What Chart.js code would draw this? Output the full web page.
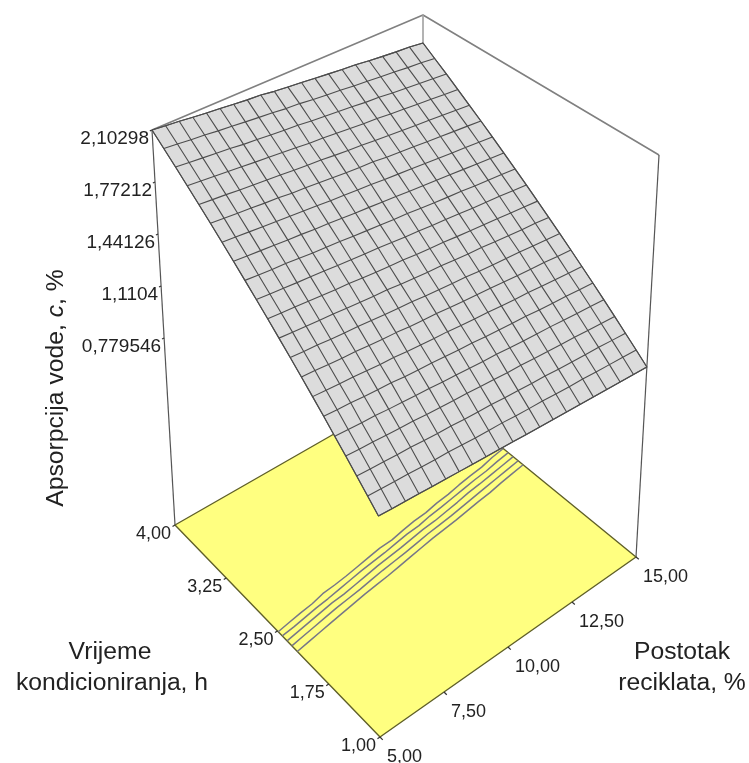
<!DOCTYPE html>
<html>
<head>
<meta charset="utf-8">
<style>
html, body { margin: 0; padding: 0; background: #fff; }
canvas { display: block; }
</style>
<script src="https://cdn.jsdelivr.net/npm/chart.js@4"></script>
</head>
<body>
<canvas id="chart" width="749" height="763"></canvas>
<script>
// surface grid, one row per time value (4,00 down to 1,00), one column per recycle value
var timeGrid = [4.00, 3.85, 3.70, 3.55, 3.40, 3.25, 3.10, 2.95, 2.80, 2.65, 2.50, 2.35, 2.20, 2.05, 1.90, 1.75, 1.60, 1.45, 1.30, 1.15, 1.00];
var recGrid = [5.0, 5.5, 6.0, 6.5, 7.0, 7.5, 8.0, 8.5, 9.0, 9.5, 10.0, 10.5, 11.0, 11.5, 12.0, 12.5, 13.0, 13.5, 14.0, 14.5, 15.0];
var absorption = [
	[2.103,2.093,2.085,2.074,2.064,2.056,2.046,2.037,2.031,2.017,2.007,1.999,1.988,1.979,1.969,1.962,1.950,1.940,1.931,1.924,1.912],
	[2.042,2.033,2.023,2.015,2.004,1.996,1.986,1.977,1.969,1.957,1.951,1.939,1.930,1.922,1.911,1.902,1.893,1.884,1.874,1.866,1.855],
	[1.981,1.972,1.963,1.954,1.946,1.934,1.926,1.917,1.909,1.902,1.890,1.881,1.873,1.864,1.853,1.846,1.835,1.826,1.817,1.808,1.799],
	[1.920,1.911,1.902,1.894,1.884,1.875,1.867,1.858,1.849,1.838,1.832,1.822,1.813,1.804,1.797,1.787,1.778,1.769,1.760,1.751,1.742],
	[1.859,1.850,1.842,1.832,1.824,1.815,1.807,1.798,1.789,1.783,1.772,1.763,1.756,1.746,1.737,1.729,1.720,1.712,1.703,1.694,1.685],
	[1.798,1.790,1.781,1.773,1.764,1.757,1.746,1.739,1.730,1.722,1.713,1.705,1.700,1.688,1.680,1.672,1.663,1.655,1.646,1.638,1.629],
	[1.736,1.728,1.720,1.711,1.704,1.695,1.687,1.679,1.670,1.663,1.654,1.648,1.637,1.630,1.622,1.613,1.605,1.597,1.589,1.580,1.572],
	[1.675,1.667,1.659,1.651,1.643,1.636,1.627,1.620,1.611,1.603,1.596,1.587,1.580,1.571,1.563,1.556,1.547,1.539,1.531,1.523,1.515],
	[1.614,1.606,1.598,1.593,1.583,1.574,1.567,1.561,1.552,1.544,1.536,1.528,1.523,1.513,1.505,1.497,1.491,1.481,1.474,1.466,1.458],
	[1.553,1.545,1.538,1.530,1.523,1.517,1.508,1.500,1.493,1.487,1.478,1.470,1.463,1.455,1.449,1.440,1.432,1.425,1.419,1.410,1.402],
	[1.492,1.485,1.479,1.470,1.463,1.455,1.450,1.441,1.433,1.426,1.421,1.411,1.404,1.399,1.390,1.382,1.375,1.369,1.360,1.353,1.345],
	[1.431,1.424,1.417,1.409,1.404,1.395,1.388,1.381,1.376,1.367,1.359,1.352,1.347,1.338,1.331,1.326,1.317,1.309,1.302,1.297,1.288],
	[1.370,1.363,1.358,1.349,1.342,1.337,1.329,1.322,1.315,1.310,1.301,1.294,1.287,1.282,1.273,1.266,1.260,1.255,1.246,1.239,1.232],
	[1.309,1.304,1.296,1.289,1.284,1.276,1.269,1.264,1.255,1.249,1.244,1.235,1.229,1.222,1.217,1.209,1.202,1.195,1.191,1.182,1.175],
	[1.248,1.241,1.235,1.230,1.222,1.215,1.211,1.202,1.196,1.189,1.185,1.176,1.170,1.165,1.157,1.150,1.146,1.137,1.131,1.124,1.118],
	[1.187,1.181,1.176,1.168,1.162,1.158,1.149,1.143,1.139,1.131,1.124,1.120,1.112,1.106,1.099,1.095,1.087,1.081,1.076,1.068,1.062],
	[1.125,1.119,1.113,1.109,1.101,1.095,1.089,1.085,1.077,1.071,1.065,1.059,1.055,1.047,1.041,1.035,1.031,1.023,1.017,1.011,1.005],
	[1.064,1.058,1.054,1.047,1.041,1.037,1.029,1.023,1.018,1.014,1.006,1.000,0.994,0.991,0.983,0.977,0.971,0.967,0.960,0.954,0.948],
	[1.003,0.997,0.992,0.986,0.983,0.975,0.969,0.966,0.958,0.953,0.949,0.941,0.936,0.930,0.927,0.919,0.913,0.908,0.904,0.897,0.891],
	[0.942,0.937,0.931,0.928,0.921,0.915,0.912,0.905,0.899,0.894,0.891,0.883,0.878,0.875,0.867,0.862,0.859,0.851,0.846,0.841,0.835],
	[0.881,0.876,0.871,0.866,0.860,0.855,0.850,0.845,0.840,0.835,0.830,0.824,0.819,0.814,0.809,0.804,0.799,0.793,0.788,0.783,0.778]
];

// contour lines on the floor: time value at each recycle value
var contourRec = recGrid;
var contour1 = [2.49,2.51,2.53,2.545,2.575,2.585,2.60,2.62,2.64,2.66,2.665,2.69,2.71,2.72,2.745,2.76,2.785,2.805,2.82,2.85,2.87];
var contour2 = [2.43,2.445,2.465,2.485,2.50,2.52,2.54,2.56,2.575,2.59,2.61,2.63,2.64,2.665,2.68,2.70,2.72,2.74,2.755,2.78,2.80];
var contour3 = [2.36,2.38,2.40,2.42,2.44,2.45,2.47,2.49,2.51,2.525,2.54,2.56,2.58,2.59,2.61,2.63,2.655,2.67,2.69,2.71,2.73];
var contour4 = [2.29,2.31,2.33,2.35,2.37,2.385,2.40,2.42,2.44,2.455,2.47,2.49,2.51,2.525,2.54,2.56,2.58,2.60,2.62,2.64,2.66];
var contour5 = [2.21,2.23,2.25,2.27,2.29,2.31,2.33,2.345,2.36,2.38,2.40,2.42,2.44,2.455,2.47,2.49,2.51,2.525,2.55,2.57,2.59];

// tick values and labels
var recTicks = [5, 7.5, 10, 12.5, 15];
var recLabels = ["5,00", "7,50", "10,00", "12,50", "15,00"];
var timeTicks = [4, 3.25, 2.5, 1.75, 1];
var timeLabels = ["4,00", "3,25", "2,50", "1,75", "1,00"];
var zTicks = [2.10298, 1.77212, 1.44126, 1.1104, 0.779546];
var zLabels = ["2,10298", "1,77212", "1,44126", "1,1104", "0,779546"];

var recMin = 5, recMax = 15, timeMin = 1, timeMax = 4, zMin = -0.41, zMax = 2.10298;

// where the corners of the 3D box land on the page (the view of the plot)
var view = {
	floor: { left: [175, 525], back: [423, 383], right: [636, 557], front: [380, 737] },
	top: { left: [152, 130], back: [423, 15], right: [659, 155], front: [377, 307] }
};

function bilinear(c, u, v, k) {
	// u goes along recycle, v goes along time (0 at time 4)
	return (1 - u) * (1 - v) * c.left[k] + u * (1 - v) * c.back[k] + (1 - u) * v * c.front[k] + u * v * c.right[k];
}

function project(rec, time, z) {
	var u = (rec - recMin) / (recMax - recMin);
	var v = (timeMax - time) / (timeMax - timeMin);
	var w = (z - zMin) / (zMax - zMin);
	return {
		x: bilinear(view.floor, u, v, 0) * (1 - w) + bilinear(view.top, u, v, 0) * w,
		y: bilinear(view.floor, u, v, 1) * (1 - w) + bilinear(view.top, u, v, 1) * w
	};
}

var datasets = [];
function addLine(points, color, width, fillColor) {
	datasets.push({
		data: points,
		showLine: true,
		pointRadius: 0,
		tension: 0,
		borderColor: color,
		borderWidth: width,
		borderJoinStyle: "round",
		backgroundColor: fillColor || "transparent",
		fill: fillColor ? "shape" : false,
		clip: false
	});
}

var boxColor = "#808080";

// back edges of the box
addLine([project(recMin, timeMax, zMax), project(recMax, timeMax, zMax), project(recMax, timeMin, zMax)], boxColor, 1.6);
addLine([project(recMax, timeMax, zMin), project(recMax, timeMax, zMax)], "#a0a0a0", 1.6);
addLine([project(recMin, timeMax, zMin), project(recMin, timeMax, zMax)], "#555555", 1.2);
addLine([project(recMax, timeMin, zMin), project(recMax, timeMin, zMax)], "#555555", 1.2);

// floor
addLine([
	project(recMin, timeMax, zMin), project(recMax, timeMax, zMin),
	project(recMax, timeMin, zMin), project(recMin, timeMin, zMin),
	project(recMin, timeMax, zMin)
], "#5f5f28", 1.4, "#ffff80");

// contours
var contours = [contour1, contour2, contour3, contour4, contour5];
for (var c = 0; c < contours.length; c++) {
	var line = [];
	for (var i = 0; i < contourRec.length; i++) {
		line.push(project(contourRec[i], contours[c][i], zMin));
	}
	addLine(line, "#777788", 1.5);
}

// axis ticks
for (var i = 0; i < recTicks.length; i++) {
	addLine([project(recTicks[i], timeMin, zMin), project(recTicks[i], timeMin - 0.04, zMin)], "#333333", 1.2);
}
for (var i = 0; i < timeTicks.length; i++) {
	addLine([project(recMin, timeTicks[i], zMin), project(recMin - 0.1, timeTicks[i], zMin)], "#333333", 1.2);
}
for (var i = 0; i < zTicks.length; i++) {
	addLine([project(recMin, timeMax, zTicks[i]), project(recMin - 0.08, timeMax, zTicks[i])], "#333333", 1.2);
}

// surface outline with the fill, then the mesh on top
var last = timeGrid.length - 1;
var lastCol = recGrid.length - 1;
var outline = [];
for (var j = 0; j <= lastCol; j++) outline.push(project(recGrid[j], timeGrid[0], absorption[0][j]));
for (var i = 1; i <= last; i++) outline.push(project(recGrid[lastCol], timeGrid[i], absorption[i][lastCol]));
for (var j = lastCol - 1; j >= 0; j--) outline.push(project(recGrid[j], timeGrid[last], absorption[last][j]));
for (var i = last - 1; i >= 0; i--) outline.push(project(recGrid[0], timeGrid[i], absorption[i][0]));
addLine(outline, "#505050", 1.1, "#dcdcdc");

var meshColor = "#4d4d4d";
for (var i = 0; i <= last; i++) {
	var row = [];
	for (var j = 0; j <= lastCol; j++) row.push(project(recGrid[j], timeGrid[i], absorption[i][j]));
	addLine(row, meshColor, 1.1);
}
for (var j = 0; j <= lastCol; j++) {
	var col = [];
	for (var i = 0; i <= last; i++) col.push(project(recGrid[j], timeGrid[i], absorption[i][j]));
	addLine(col, meshColor, 1.1);
}

// painter's order: later in the list means drawn later
for (var d = 0; d < datasets.length; d++) datasets[d].order = datasets.length - d;

var textColor = "#222222";
var tickFont = "18px 'Liberation Sans', Arial, sans-serif";
var zTickFont = "19px 'Liberation Sans', Arial, sans-serif";
var titleFont = "24.7px 'Liberation Sans', Arial, sans-serif";

var labelsPlugin = {
	id: "labels3d",
	afterDraw: function(chart) {
		var ctx = chart.ctx;
		var sx = chart.scales.x, sy = chart.scales.y;
		function text(s, x, y, align, font) {
			ctx.font = font;
			ctx.textAlign = align;
			ctx.textBaseline = "middle";
			ctx.fillText(s, x, y);
		}
		function at(p) {
			return { x: sx.getPixelForValue(p.x), y: sy.getPixelForValue(p.y) };
		}
		ctx.save();
		ctx.fillStyle = textColor;
		for (var i = 0; i < recTicks.length; i++) {
			var p = at(project(recTicks[i], timeMin, zMin));
			text(recLabels[i], p.x + 7, p.y + 20, "left", tickFont);
		}
		for (var i = 0; i < timeTicks.length; i++) {
			var p = at(project(recMin, timeTicks[i], zMin));
			text(timeLabels[i], p.x - 4, p.y + 9, "right", tickFont);
		}
		for (var i = 0; i < zTicks.length; i++) {
			var p = at(project(recMin, timeMax, zTicks[i]));
			text(zLabels[i], p.x - 3, p.y + 9, "right", zTickFont);
		}
		text("Vrijeme", 110, 652, "center", titleFont);
		text("kondicioniranja, h", 112, 683, "center", titleFont);
		text("Postotak", 682, 652, "center", titleFont);
		text("reciklata, %", 682, 683, "center", titleFont);

		// rotated z title, the c is italic
		ctx.translate(56, 388);
		ctx.rotate(-Math.PI / 2);
		ctx.textBaseline = "middle";
		ctx.textAlign = "left";
		var a = "Apsorpcija vode, ", b = "c", e = ", %";
		ctx.font = titleFont;
		var wa = ctx.measureText(a).width, we = ctx.measureText(e).width;
		ctx.font = "italic " + titleFont;
		var wb = ctx.measureText(b).width;
		var x0 = -(wa + wb + we) / 2;
		ctx.font = titleFont;
		ctx.fillText(a, x0, 0);
		ctx.font = "italic " + titleFont;
		ctx.fillText(b, x0 + wa, 0);
		ctx.font = titleFont;
		ctx.fillText(e, x0 + wa + wb, 0);
		ctx.restore();
	}
};

new Chart(document.getElementById("chart"), {
	type: "scatter",
	data: { datasets: datasets },
	plugins: [labelsPlugin],
	options: {
		responsive: false,
		animation: false,
		layout: { padding: 0 },
		plugins: { legend: { display: false }, tooltip: { enabled: false } },
		scales: {
			x: { type: "linear", display: false, min: 0, max: 749 },
			y: { type: "linear", display: false, min: 0, max: 763, reverse: true }
		}
	}
});
</script>
</body>
</html>
